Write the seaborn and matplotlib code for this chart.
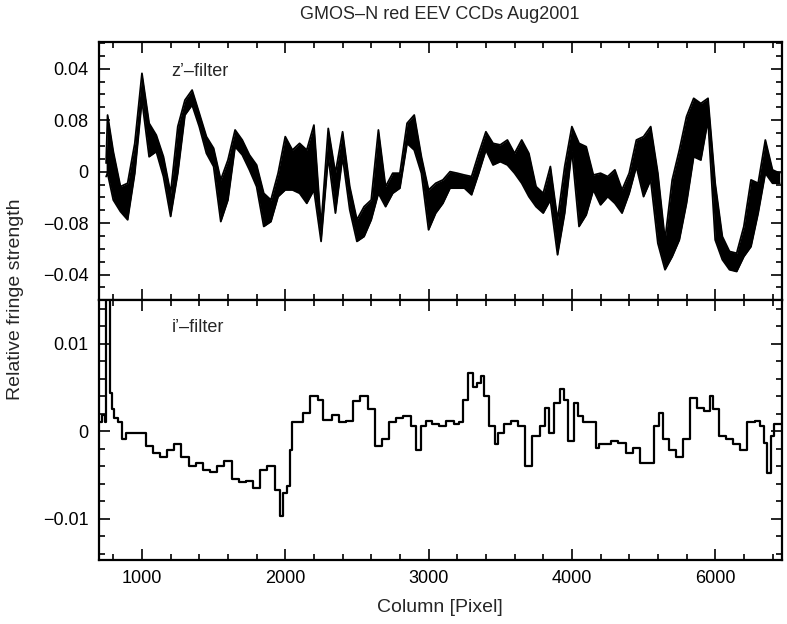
import matplotlib
matplotlib.use("Agg")
import matplotlib.pyplot as plt
import seaborn as sns
from matplotlib.ticker import MultipleLocator

# z'-filter panel: column positions and lower / upper edge of the noisy trace
z_col = [750, 760, 800, 850, 900, 950, 1000, 1050, 1100, 1150, 1200, 1250, 1300,
         1350, 1400, 1450, 1500, 1550, 1600, 1650, 1700, 1750, 1800, 1850, 1900,
         1950, 2000, 2050, 2100, 2150, 2200, 2250, 2300, 2350, 2400, 2450, 2500,
         2550, 2600, 2650, 2700, 2750, 2800, 2850, 2900, 2950, 3000, 3050, 3100,
         3150, 3200, 3250, 3300, 3350, 3400, 3450, 3500, 3550, 3600, 3650, 3700,
         3750, 3800, 3850, 3900, 3950, 4000, 4050, 4100, 4150, 4200, 4250, 4300,
         4350, 4400, 4450, 4500, 4550, 4600, 4650, 4700, 4750, 4800, 4850, 4900,
         4950, 5000, 5050, 5100, 5150, 5200, 5250, 5300, 5350, 5400, 5450]
z_lo = [-0.0019, -0.0006, -0.0110, -0.0155, -0.0187, -0.0006, 0.0278, 0.0058, 0.0078,
        -0.0019, -0.0174, -0.0006, 0.0220, 0.0259, 0.0175, 0.0071, 0.0020, -0.0194,
        -0.0110, 0.0097, 0.0065, 0.0007, -0.0058, -0.0213, -0.0194, -0.0097, -0.0071,
        -0.0071, -0.0084, -0.0123, -0.0071, -0.0271, 0.0058, -0.0161, 0.0058, -0.0148,
        -0.0271, -0.0252, -0.0187, -0.0084, -0.0136, -0.0084, -0.0064, 0.0110, 0.0084,
        -0.0006, -0.0226, -0.0161, -0.0123, -0.0064, -0.0064, -0.0064, -0.0090, -0.0006,
        0.0084, 0.0026, 0.0039, 0.0026, -0.0006, -0.0045, -0.0097, -0.0136, -0.0161,
        -0.0110, -0.0323, -0.0161, 0.0084, -0.0213, -0.0168, -0.0071, -0.0129, -0.0097,
        -0.0123, -0.0161, -0.0084, 0.0020, -0.0097, -0.0032, -0.0278, -0.0381, -0.0330,
        -0.0265, -0.0123, 0.0058, 0.0045, 0.0201, -0.0265, -0.0342, -0.0381, -0.0388,
        -0.0330, -0.0291, -0.0161, -0.0006, -0.0045, -0.0045]
z_hi = [0.0033, 0.0220, 0.0078, -0.0058, -0.0045, 0.0110, 0.0382, 0.0188, 0.0142,
        0.0058, -0.0084, 0.0175, 0.0278, 0.0317, 0.0227, 0.0136, 0.0091, -0.0032,
        0.0045, 0.0162, 0.0123, 0.0065, 0.0026, -0.0084, -0.0110, -0.0006, 0.0136,
        0.0084, 0.0110, 0.0084, 0.0181, -0.0213, 0.0168, -0.0006, 0.0155, -0.0058,
        -0.0187, -0.0136, -0.0110, 0.0162, -0.0058, -0.0006, -0.0006, 0.0188, 0.0220,
        0.0058, -0.0071, -0.0045, -0.0032, 0.0000, -0.0006, -0.0013, -0.0019, 0.0071,
        0.0155, 0.0110, 0.0104, 0.0123, 0.0071, 0.0123, 0.0071, -0.0058, -0.0084,
        0.0020, -0.0187, 0.0020, 0.0175, 0.0110, 0.0097, -0.0013, -0.0006, -0.0019,
        0.0007, -0.0071, -0.0006, 0.0123, 0.0136, 0.0175, -0.0006, -0.0265, -0.0032,
        0.0084, 0.0214, 0.0285, 0.0265, 0.0285, -0.0045, -0.0252, -0.0310, -0.0317,
        -0.0213, -0.0032, -0.0045, 0.0123, 0.0007, -0.0006]

# i'-filter panel
i_col = [710, 730, 748, 752, 775, 782, 795, 810, 850, 875, 900, 950, 1000, 1050,
         1100, 1150, 1200, 1250, 1300, 1350, 1400, 1450, 1500, 1550, 1600, 1650,
         1700, 1750, 1800, 1850, 1900, 1950, 1975, 2000, 2025, 2040, 2050, 2100,
         2150, 2200, 2250, 2275, 2300, 2350, 2400, 2450, 2500, 2550, 2600, 2650,
         2700, 2750, 2800, 2850, 2900, 2930, 2960, 3000, 3050, 3100, 3150, 3200,
         3225, 3250, 3300, 3325, 3350, 3375, 3400, 3450, 3475, 3500, 3550, 3600,
         3650, 3700, 3750, 3800, 3825, 3850, 3900, 3935, 3950, 4000, 4030, 4050,
         4100, 4150, 4180, 4200, 4250, 4300, 4350, 4400, 4450, 4500, 4550, 4600,
         4620, 4650, 4700, 4750, 4800, 4850, 4900, 4950, 4975, 5000, 5050, 5100,
         5150, 5200, 5250, 5300, 5325, 5350, 5380, 5400, 5420, 5470]
i_val = [0.0010, 0.0019, 0.0010, 0.0160, 0.0160, 0.0044, 0.0025, 0.0015, 0.0010,
         -0.0009, -0.0002, -0.0002, -0.0002, -0.0017, -0.0025, -0.0030, -0.0021,
         -0.0015, -0.0029, -0.0040, -0.0036, -0.0044, -0.0046, -0.0040, -0.0034,
         -0.0055, -0.0058, -0.0057, -0.0065, -0.0044, -0.0040, -0.0067, -0.0097,
         -0.0070, -0.0063, -0.0021, 0.0010, 0.0010, 0.0021, 0.0040, 0.0036, 0.0013,
         0.0013, 0.0019, 0.0010, 0.0012, 0.0034, 0.0040, 0.0025, -0.0017, -0.0009,
         0.0010, 0.0015, 0.0017, 0.0006, -0.0021, 0.0006, 0.0012, 0.0008, 0.0006,
         0.0012, 0.0008, 0.0010, 0.0036, 0.0067, 0.0050, 0.0055, 0.0063, 0.0040,
         0.0006, -0.0015, -0.0002, 0.0008, 0.0012, 0.0006, -0.0040, -0.0006, 0.0006,
         0.0027, -0.0002, 0.0032, 0.0048, 0.0036, -0.0011, 0.0032, 0.0017, 0.0010,
         0.0010, -0.0019, -0.0015, -0.0015, -0.0011, -0.0013, -0.0025, -0.0019,
         -0.0036, -0.0036, 0.0006, 0.0021, -0.0009, -0.0021, -0.0029, -0.0009,
         0.0038, 0.0027, 0.0023, 0.0040, 0.0025, -0.0006, -0.0009, -0.0015, -0.0021,
         0.0010, 0.0012, 0.0006, -0.0013, -0.0048, -0.0006, 0.0008, 0.0008]

x_ticks = [1000, 2000, 3000, 4000, 5000]
x_ticklabels = ["1000", "2000", "3000", "4000", "6000"]
z_ticks = [0.04, 0.02, 0, -0.02, -0.04]
z_ticklabels = ["0.04", "0.08", "0", "\u22120.08", "\u22120.04"]
i_ticks = [0.01, 0, -0.01]
i_ticklabels = ["0.01", "0", "\u22120.01"]

sns.set_style("ticks")
plt.rcParams['font.family'] = ['Liberation Sans', 'DejaVu Sans']

fig = plt.figure(figsize=(7.87, 6.24), dpi=100)
gs = fig.add_gridspec(2, 1, height_ratios=[258, 260], hspace=0,
                      left=0.1252, right=0.9936, top=0.9332, bottom=0.1026)
ax1 = fig.add_subplot(gs[0])
ax2 = fig.add_subplot(gs[1], sharex=ax1)

# noisy z' trace: band between the lower and upper edges
ax1.fill_between(z_col, z_lo, z_hi, color="black", lw=0)
sns.lineplot(x=z_col, y=z_lo, ax=ax1, color="black", lw=1.3, estimator=None, sort=False)
sns.lineplot(x=z_col, y=z_hi, ax=ax1, color="black", lw=1.3, estimator=None, sort=False)
sns.lineplot(x=i_col, y=i_val, ax=ax2, color="black", lw=1.6, estimator=None,
             sort=False, drawstyle="steps-mid")

ax1.set_xlim(697, 5466)
ax1.set_ylim(-0.0498, 0.0505)
ax2.set_ylim(-0.0147, 0.0150)

ax1.set_yticks(z_ticks)
ax1.set_yticklabels(z_ticklabels)
ax1.yaxis.set_minor_locator(MultipleLocator(0.005))
ax2.set_yticks(i_ticks)
ax2.set_yticklabels(i_ticklabels)
ax2.yaxis.set_minor_locator(MultipleLocator(0.002))
ax2.set_xticks(x_ticks)
ax2.set_xticklabels(x_ticklabels)
ax2.xaxis.set_minor_locator(MultipleLocator(200))

for ax in (ax1, ax2):
    ax.tick_params(which="both", direction="in", top=True, right=True,
                   width=1.2, labelsize=13, colors="black")
    ax.tick_params(which="major", length=8)
    ax.tick_params(which="minor", length=4.5)
    ax.tick_params(axis="y", pad=7)
    ax.tick_params(axis="x", pad=7)
    for s in ax.spines.values():
        s.set_linewidth(1.6)
        s.set_color("black")
    ax.set_xlabel("")
    ax.set_ylabel("")
ax1.tick_params(labelbottom=False)

ax1.text(0.107, 0.885, "z\u2019\u2013filter", transform=ax1.transAxes,
         fontsize=13, va="center", ha="left")
ax2.text(0.107, 0.892, "i\u2019\u2013filter", transform=ax2.transAxes,
         fontsize=13, va="center", ha="left")

fig.text(0.559, 0.976, "GMOS\u2013N red EEV CCDs Aug2001", ha="center", va="center", fontsize=13)
fig.text(0.559, 0.027, "Column [Pixel]", ha="center", va="center", fontsize=14)
fig.text(0.02, 0.52, "Relative fringe strength", ha="center", va="center",
         rotation=90, fontsize=14)

fig.savefig("out.png", dpi=100)
